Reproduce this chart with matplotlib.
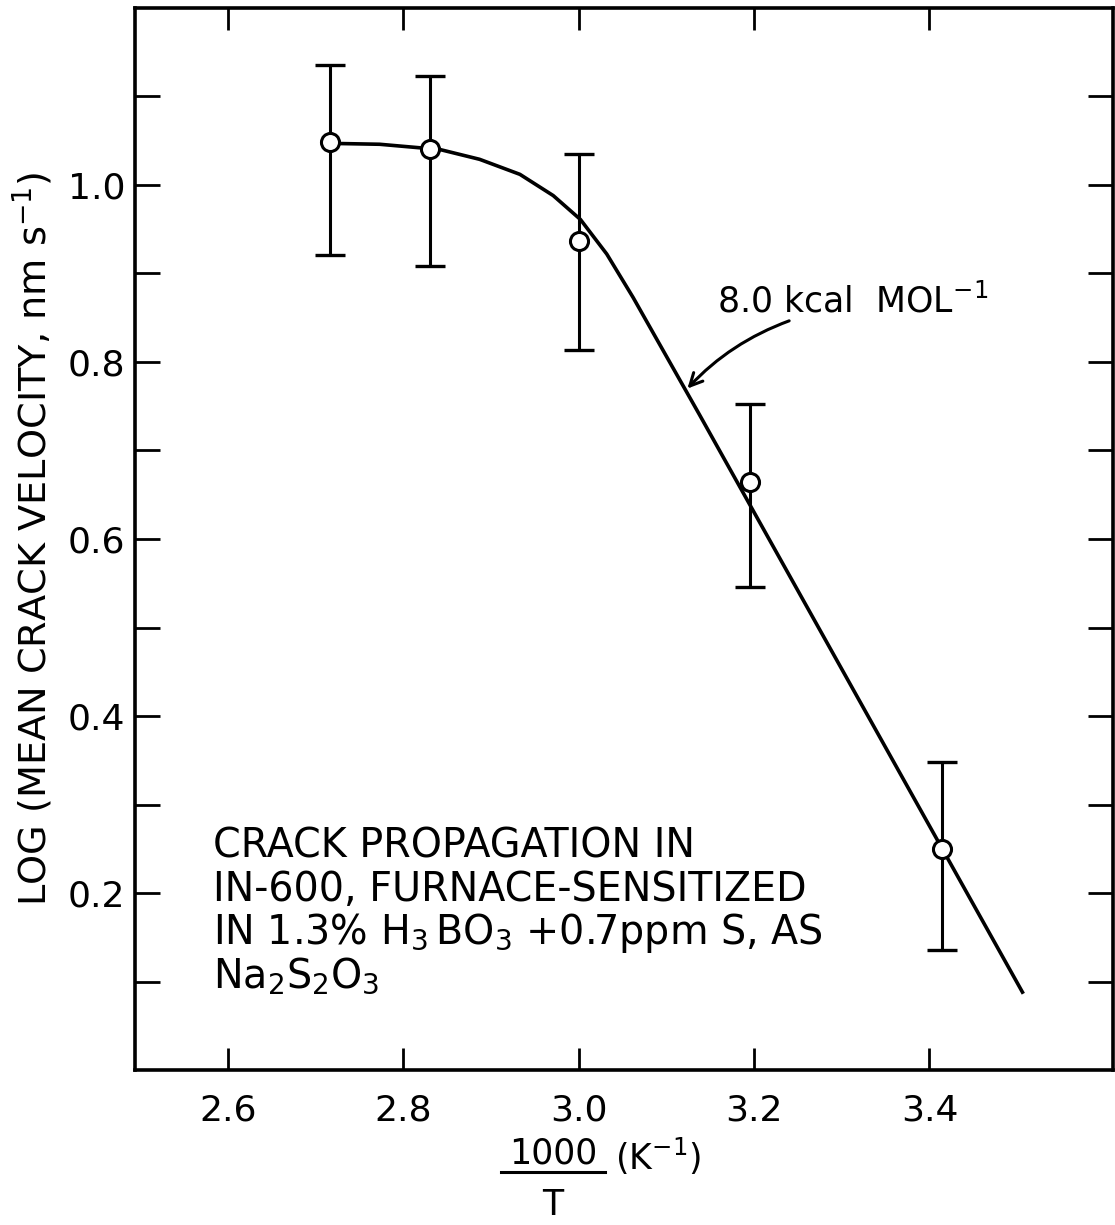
import matplotlib
matplotlib.use("Agg")
import matplotlib.pyplot as plt

plt.rcParams["font.family"] = ["DejaVu Sans"]
plt.rcParams["mathtext.fontset"] = "dejavusans"

# measured points: 1000/T (1/K) and log mean crack velocity with error range
inv_temp = [2.717, 2.830, 3.000, 3.195, 3.414]
log_vel = [1.048, 1.041, 0.937, 0.664, 0.250]
log_vel_hi = [1.135, 1.123, 1.035, 0.753, 0.348]
log_vel_lo = [0.921, 0.909, 0.813, 0.546, 0.136]

# hand-drawn trend curve through the data (8.0 kcal/mol straight part)
curve_x = [2.717, 2.773, 2.842, 2.887, 2.933, 2.971, 3.002, 3.032, 3.062, 3.138, 3.506]
curve_y = [1.047, 1.046, 1.040, 1.029, 1.012, 0.988, 0.961, 0.922, 0.873, 0.740, 0.088]

x_ticks = [2.6, 2.8, 3.0, 3.2, 3.4]
x_ticklabels = ["2.6", "2.8", "3.0", "3.2", "3.4"]
y_ticks = [0.1, 0.2, 0.3, 0.4, 0.5, 0.6, 0.7, 0.8, 0.9, 1.0, 1.1]
y_ticklabels = ["", "0.2", "", "0.4", "", "0.6", "", "0.8", "", "1.0", ""]

fig = plt.figure(figsize=(11.15, 12.25), dpi=100)
ax = fig.add_axes([0.121, 0.1265, 0.877, 0.867])

ax.plot(curve_x, curve_y, color="black", lw=2.6, zorder=2)
yerr = [[v - lo for v, lo in zip(log_vel, log_vel_lo)],
        [hi - v for v, hi in zip(log_vel, log_vel_hi)]]
ax.errorbar(inv_temp, log_vel, yerr=yerr, fmt="none", ecolor="black",
            elinewidth=2.2, capsize=11, capthick=2.4, zorder=1)
ax.plot(inv_temp, log_vel, "o", ms=13, mfc="white", mec="black", mew=2.2, zorder=3)

ax.set_xlim(2.494, 3.609)
ax.set_ylim(0.0, 1.2)
ax.set_xticks(x_ticks)
ax.set_xticklabels(x_ticklabels)
ax.set_yticks(y_ticks)
ax.set_yticklabels(y_ticklabels)
ax.tick_params(axis="x", direction="in", length=16, width=2, top=True,
               labelsize=26, pad=17)
ax.tick_params(axis="y", direction="in", length=18, width=2, right=True,
               labelsize=26, pad=7)
for spine in ax.spines.values():
    spine.set_linewidth(2.6)

ax.set_ylabel(r"LOG (MEAN CRACK VELOCITY, nm s$^{\mathregular{-1}}$)", fontsize=27.5)
ax.yaxis.set_label_coords(-0.082, 0.5)

# x label drawn as a stacked fraction
fig.text(0.496, 0.0505, "1000", fontsize=25, ha="center", va="baseline")
fig.add_artist(plt.Line2D([0.449, 0.543], [0.043, 0.043], color="black", lw=2.2,
                          transform=fig.transFigure))
fig.text(0.496, 0.008, "T", fontsize=25, ha="center", va="baseline")
fig.text(0.552, 0.045, r"(K$^{\mathregular{-1}}$)", fontsize=25, ha="left", va="baseline")

ax.text(3.158, 0.856, r"8.0 kcal  MOL$^{\mathregular{-1}}$", fontsize=25,
        ha="left", va="baseline")
ax.annotate("", xy=(3.124, 0.770), xytext=(3.240, 0.8465),
            arrowprops=dict(arrowstyle="->,head_length=0.9,head_width=0.45",
                            lw=2.2, color="black", shrinkA=0, shrinkB=0,
                            connectionstyle="arc3,rad=0.12"))

notes = [
    "CRACK PROPAGATION IN",
    "IN-600, FURNACE-SENSITIZED",
    r"IN 1.3% $\mathregular{H_3\,BO_3}$ +0.7ppm S, AS",
    r"$\mathregular{Na_2S_2O_3}$",
]
note_y = [0.240, 0.191, 0.142, 0.093]
for line, yy in zip(notes, note_y):
    ax.text(2.583, yy, line, fontsize=28.5, ha="left", va="baseline")

fig.savefig("out.png", dpi=100)
